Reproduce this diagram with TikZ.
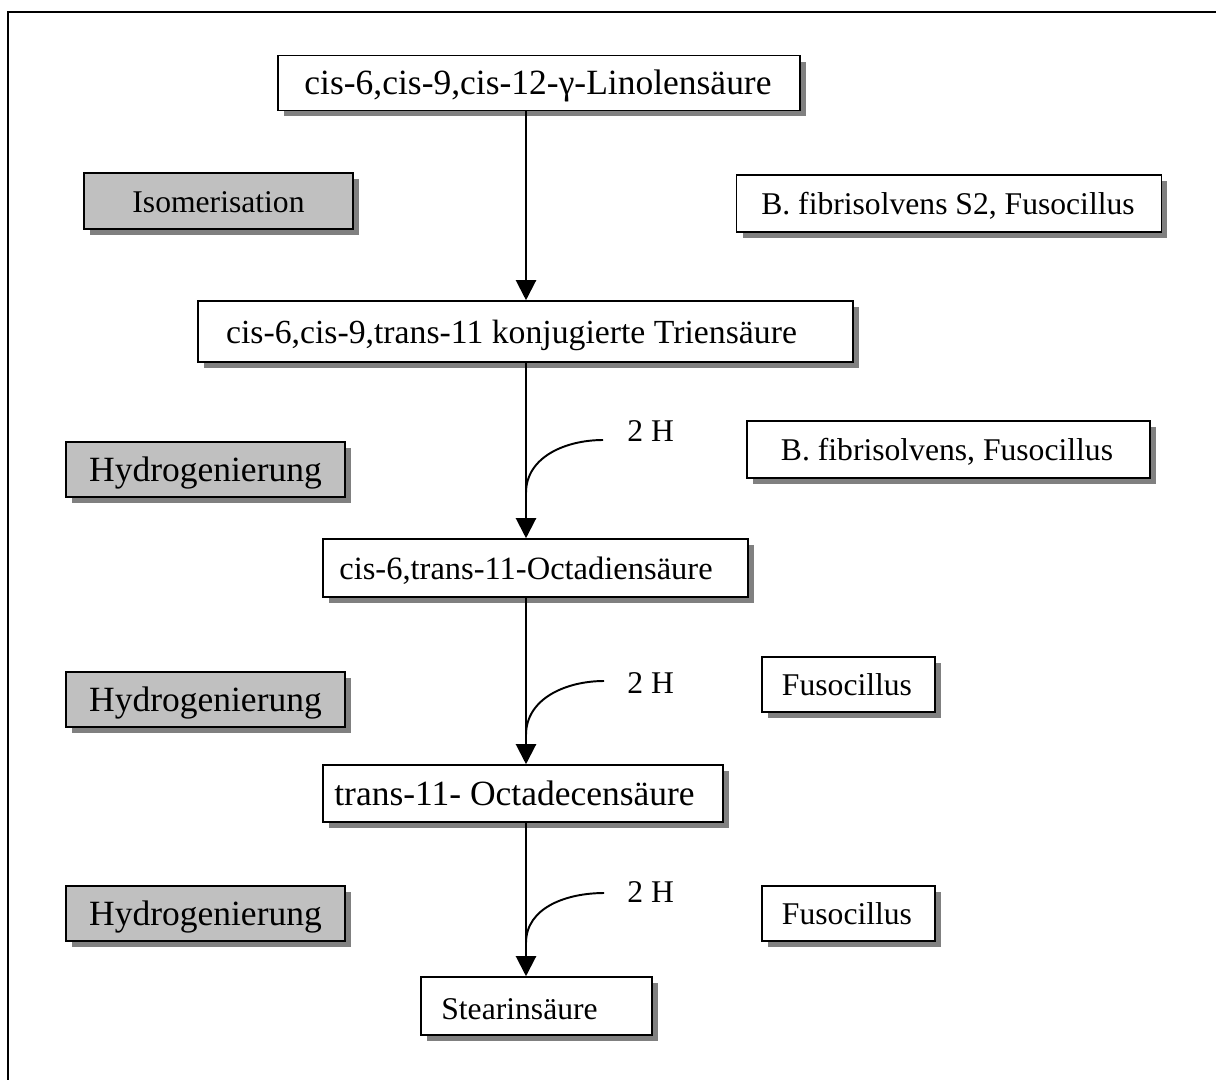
\documentclass[tikz,border=0pt]{standalone}
\usepackage{fontspec}
\setmainfont{Liberation Serif}
\usetikzlibrary{arrows.meta,shadows}
\definecolor{shadowgray}{HTML}{808080}
\definecolor{boxgray}{HTML}{C0C0C0}
\tikzset{
  box/.style={draw=black, line width=0.9pt, fill=white, inner sep=0pt,
    drop shadow={shadow xshift=0.12cm, shadow yshift=-0.12cm, fill=shadowgray, opacity=1}},
  graybox/.style={box, fill=boxgray},
  lbl/.style={font=\fontsize{#1}{#1}\selectfont, inner sep=0pt, anchor=base},
  lbl/.default=18,
  flow/.style={line width=1.2pt, -{Triangle[length=0.4cm,width=0.4cm]}},
  hcurve/.style={line width=1.1pt},
  frameline/.style={line width=1.5pt},
}
\begin{document}
\begin{tikzpicture}[x=0.02cm,y=-0.02cm]
\useasboundingbox (0,0) rectangle (1216,1079);
\clip (0,0) rectangle (1216,1079);
\draw[frameline] (8,1100) -- (8,12) -- (1240,12);

% main column boxes
\node[box, minimum width=10.44cm, minimum height=1.10cm] (b1) at (539,83) {};
\node[lbl=20.2] (t1) at (538,94) {cis-6,cis-9,cis-12-γ-Linolensäure};

\node[box, minimum width=13.10cm, minimum height=1.22cm] (b2) at (525.5,331.5) {};
\node[lbl=19.2] (t2) at (511.5,343) {cis-6,cis-9,trans-11 konjugierte Triensäure};

\node[box, minimum width=8.50cm, minimum height=1.16cm] (b3) at (535.5,568) {};
\node[lbl=18.5] (t3) at (526,579) {cis-6,trans-11-Octadiensäure};

\node[box, minimum width=8.00cm, minimum height=1.14cm] (b4) at (523,793.5) {};
\node[lbl=20.2] (t4) at (514.5,805) {trans-11- Octadecensäure};

\node[box, minimum width=4.62cm, minimum height=1.16cm] (b5) at (536.5,1006) {};
\node[lbl] (t5) at (519.5,1019) {Stearinsäure};

% left process boxes
\node[graybox, minimum width=5.38cm, minimum height=1.12cm] (g1) at (218.5,201) {};
\node[lbl] (tg1) at (218.5,212) {Isomerisation};
\node[graybox, minimum width=5.58cm, minimum height=1.10cm] (g2) at (205.5,469.5) {};
\node[lbl=20.2] (tg2) at (205.5,481) {Hydrogenierung};
\node[graybox, minimum width=5.58cm, minimum height=1.10cm] (g3) at (205.5,699.5) {};
\node[lbl=20.2] (tg3) at (205.5,711) {Hydrogenierung};
\node[graybox, minimum width=5.58cm, minimum height=1.10cm] (g4) at (205.5,913.5) {};
\node[lbl=20.2] (tg4) at (205.5,925) {Hydrogenierung};

% right organism boxes
\node[box, minimum width=8.50cm, minimum height=1.14cm] (o1) at (949,203.5) {};
\node[lbl] (to1) at (948,214) {B. fibrisolvens S2, Fusocillus};
\node[box, minimum width=8.06cm, minimum height=1.14cm] (o2) at (948.5,449.5) {};
\node[lbl] (to2) at (947,460) {B. fibrisolvens, Fusocillus};
\node[box, minimum width=3.46cm, minimum height=1.10cm] (o3) at (848.5,684.5) {};
\node[lbl] (to3) at (847,695) {Fusocillus};
\node[box, minimum width=3.46cm, minimum height=1.10cm] (o4) at (848.5,913.5) {};
\node[lbl] (to4) at (847,924) {Fusocillus};

% 2 H labels
\node[lbl, anchor=base west] (h1) at (627,441) {2 H};
\node[lbl, anchor=base west] (h2) at (627,693) {2 H};
\node[lbl, anchor=base west] (h3) at (627,902) {2 H};

% arrows
\coordinate (ax) at (526,0);
\draw[flow] (ax |- b1.south) -- (ax |- b2.north);
\draw[flow] (ax |- b2.south) -- (ax |- b3.north);
\draw[flow] (ax |- b3.south) -- (ax |- b4.north);
\draw[flow] (ax |- b4.south) -- (ax |- b5.north);

% hydrogen curves
\coordinate (c1s) at (603,440);
\coordinate (c1e) at (526,493);
\coordinate (c2s) at (604,681);
\coordinate (c2e) at (526,735);
\coordinate (c3s) at (604,893);
\coordinate (c3e) at (526,943);
\draw[hcurve] (c1s) to[out=180,in=90] (c1e);
\draw[hcurve] (c2s) to[out=180,in=90] (c2e);
\draw[hcurve] (c3s) to[out=180,in=90] (c3e);
\end{tikzpicture}
\end{document}
